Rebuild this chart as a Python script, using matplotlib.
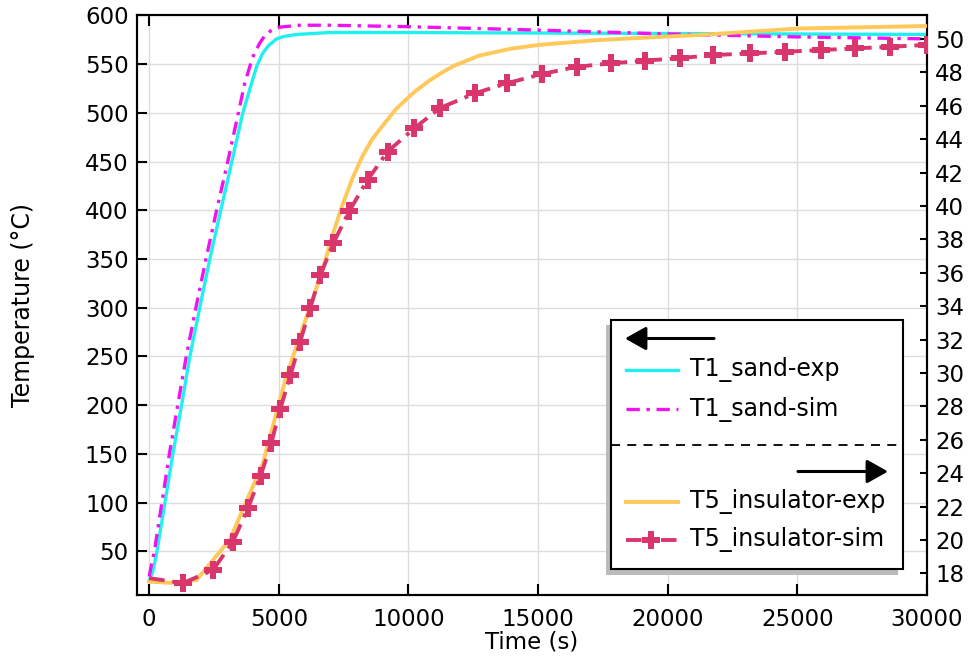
import matplotlib
matplotlib.use("Agg")
import matplotlib.pyplot as plt
from matplotlib.lines import Line2D
from matplotlib.patches import Rectangle, FancyArrowPatch

# ---------------- data ----------------
t1_exp_t = [0, 150, 300, 915, 1250, 1570, 1950, 2340, 2760, 3190, 3610, 3800, 3988, 4150, 4373, 4600, 4911, 5200, 5681, 6950, 10000, 15000, 20000, 25000, 30000]
t1_exp_v = [20, 30, 50, 150, 200, 250, 300, 350, 400, 450, 500, 517, 534, 548, 561, 569, 576, 578.5, 580.5, 582.5, 582.5, 582, 581.5, 581, 580.5]

t1_sim_t = [0, 100, 200, 780, 1100, 1430, 1800, 2190, 2600, 3030, 3440, 3681, 3988, 4250, 4450, 4700, 5027, 5796, 6950, 10000, 15000, 20000, 25000, 30000]
t1_sim_v = [24, 38, 50, 150, 200, 250, 300, 350, 400, 450, 500, 530, 557, 571, 579, 584.5, 588, 590, 590, 588.5, 585, 581, 578, 576]

t5_exp_t = [0, 796, 1823, 3104, 4385, 5285, 6692, 7100, 7462, 7850, 8231, 8600, 8900, 9515, 10200, 10796, 11300, 11758, 12719, 13873, 15027, 17335, 19950, 21181, 25027, 30000]
t5_exp_v = [17.50, 17.43, 17.60, 20.0, 24.59, 29.78, 36.20, 38.40, 40.10, 41.70, 43.00, 44.00, 44.60, 45.80, 46.80, 47.50, 48.00, 48.40, 49.00, 49.40, 49.65, 49.94, 50.15, 50.24, 50.63, 50.78]

t5_sim_t = [0, 1308, 2462, 3231, 3808, 4296, 4708, 5054, 5450, 5823, 6208, 6604, 7104, 7719, 8423, 9192, 10219, 11219, 12565, 13796, 15142, 16488, 17796, 19142, 20489, 21758, 23169, 24539, 25900, 27231, 28592, 30000]
t5_sim_v = [17.71, 17.41, 18.20, 19.90, 21.90, 23.83, 25.79, 27.83, 29.87, 31.87, 33.87, 35.87, 37.78, 39.70, 41.56, 43.25, 44.65, 45.87, 46.75, 47.35, 47.90, 48.34, 48.54, 48.71, 48.86, 49.04, 49.14, 49.24, 49.34, 49.44, 49.54, 49.65]

x_ticks = [0, 5000, 10000, 15000, 20000, 25000, 30000]
left_ticks = [50, 100, 150, 200, 250, 300, 350, 400, 450, 500, 550, 600]
right_ticks = list(range(18, 51, 2))

labels = ["T1_sand-exp", "T1_sand-sim", "T5_insulator-exp", "T5_insulator-sim"]
xlabel = "Time (s)"
ylabel = "Temperature (°C)"

# ---------------- style ----------------
C_CYAN = "#22F0F0"
C_MAG = "#F012F0"
C_ORA = "#FFC85A"
C_RED = "#D9366B"
FS = 16.5

W, H = 969, 657
fig = plt.figure(figsize=(W / 100, H / 100), dpi=100)
ax = fig.add_axes([137 / W, 1 - 595 / H, 790 / W, 580 / H])
ax2 = ax.twinx()

dd = (0, (4, 2, 1, 2))
ax.plot(t1_exp_t, t1_exp_v, color=C_CYAN, lw=2.4, zorder=3)
ax.plot(t1_sim_t, t1_sim_v, color=C_MAG, lw=2.4, ls=dd, zorder=4)
ax2.plot(t5_exp_t, t5_exp_v, color=C_ORA, lw=2.8, zorder=3)
ax2.plot(t5_sim_t, t5_sim_v, color=C_RED, lw=2.8, ls=dd, marker="P",
         markersize=13, markevery=slice(1, None), markeredgewidth=0, zorder=4)

ax.set_xlim(-470, 30000)
ax.set_ylim(5.1, 600.5)
ax2.set_ylim(16.7, 51.44)
ax.set_xticks(x_ticks)
ax.set_yticks(left_ticks)
ax2.set_yticks(right_ticks)

ax.grid(True, color="#DDDDDD", lw=1.0, zorder=0)
ax.set_axisbelow(True)

for a in (ax, ax2):
    for s in a.spines.values():
        s.set_linewidth(1.5)
        s.set_color("black")

ax.tick_params(axis="x", direction="in", length=8, width=1.5, top=True, labelsize=FS, pad=9)
ax.tick_params(axis="y", direction="in", length=7.5, width=1.5, labelsize=FS, pad=6, right=False)
ax2.tick_params(axis="y", direction="in", length=5, width=1.5, labelsize=FS, pad=6)

ax.set_xlabel(xlabel, fontsize=16.5, labelpad=0)
ax.set_ylabel(ylabel, fontsize=17, labelpad=36)

# ---------------- legend (custom) ----------------
ov = fig.add_axes([0, 0, 1, 1], facecolor="none")
ov.set_xlim(0, W)
ov.set_ylim(H, 0)
ov.axis("off")

ov.add_patch(Rectangle((606, 325), 292, 250, facecolor="#BBBBBB", edgecolor="none", zorder=1))
ov.add_patch(Rectangle((611, 320), 292, 249, facecolor="white", edgecolor="black", lw=1.5, zorder=2))

ov.add_patch(FancyArrowPatch((714, 338.5), (625, 338.5), arrowstyle="-|>,head_length=8,head_width=4.5",
                             mutation_scale=1.6, color="black", lw=2.2, zorder=3, shrinkA=0, shrinkB=0))
ov.add_patch(FancyArrowPatch((798, 471.5), (888, 471.5), arrowstyle="-|>,head_length=8,head_width=4.5",
                             mutation_scale=1.6, color="black", lw=2.2, zorder=3, shrinkA=0, shrinkB=0))
ov.plot([611, 903], [445, 445], color="black", lw=1.3, ls=(0, (5, 4)), zorder=3)

rows = [370, 409, 501.5, 540]
styles = [dict(color=C_CYAN, lw=2.4),
          dict(color=C_MAG, lw=2.4, ls=dd),
          dict(color=C_ORA, lw=2.8),
          dict(color=C_RED, lw=2.8, ls=dd)]
for y, lab, st in zip(rows, labels, styles):
    ov.add_line(Line2D([626, 678], [y, y], zorder=3, **st))
    ov.text(690, y, lab, fontsize=17, va="center", ha="left", zorder=3)
ov.add_line(Line2D([651], [540], marker="P", markersize=13, color=C_RED, markeredgewidth=0, zorder=4))

fig.savefig("out.png", dpi=100)
